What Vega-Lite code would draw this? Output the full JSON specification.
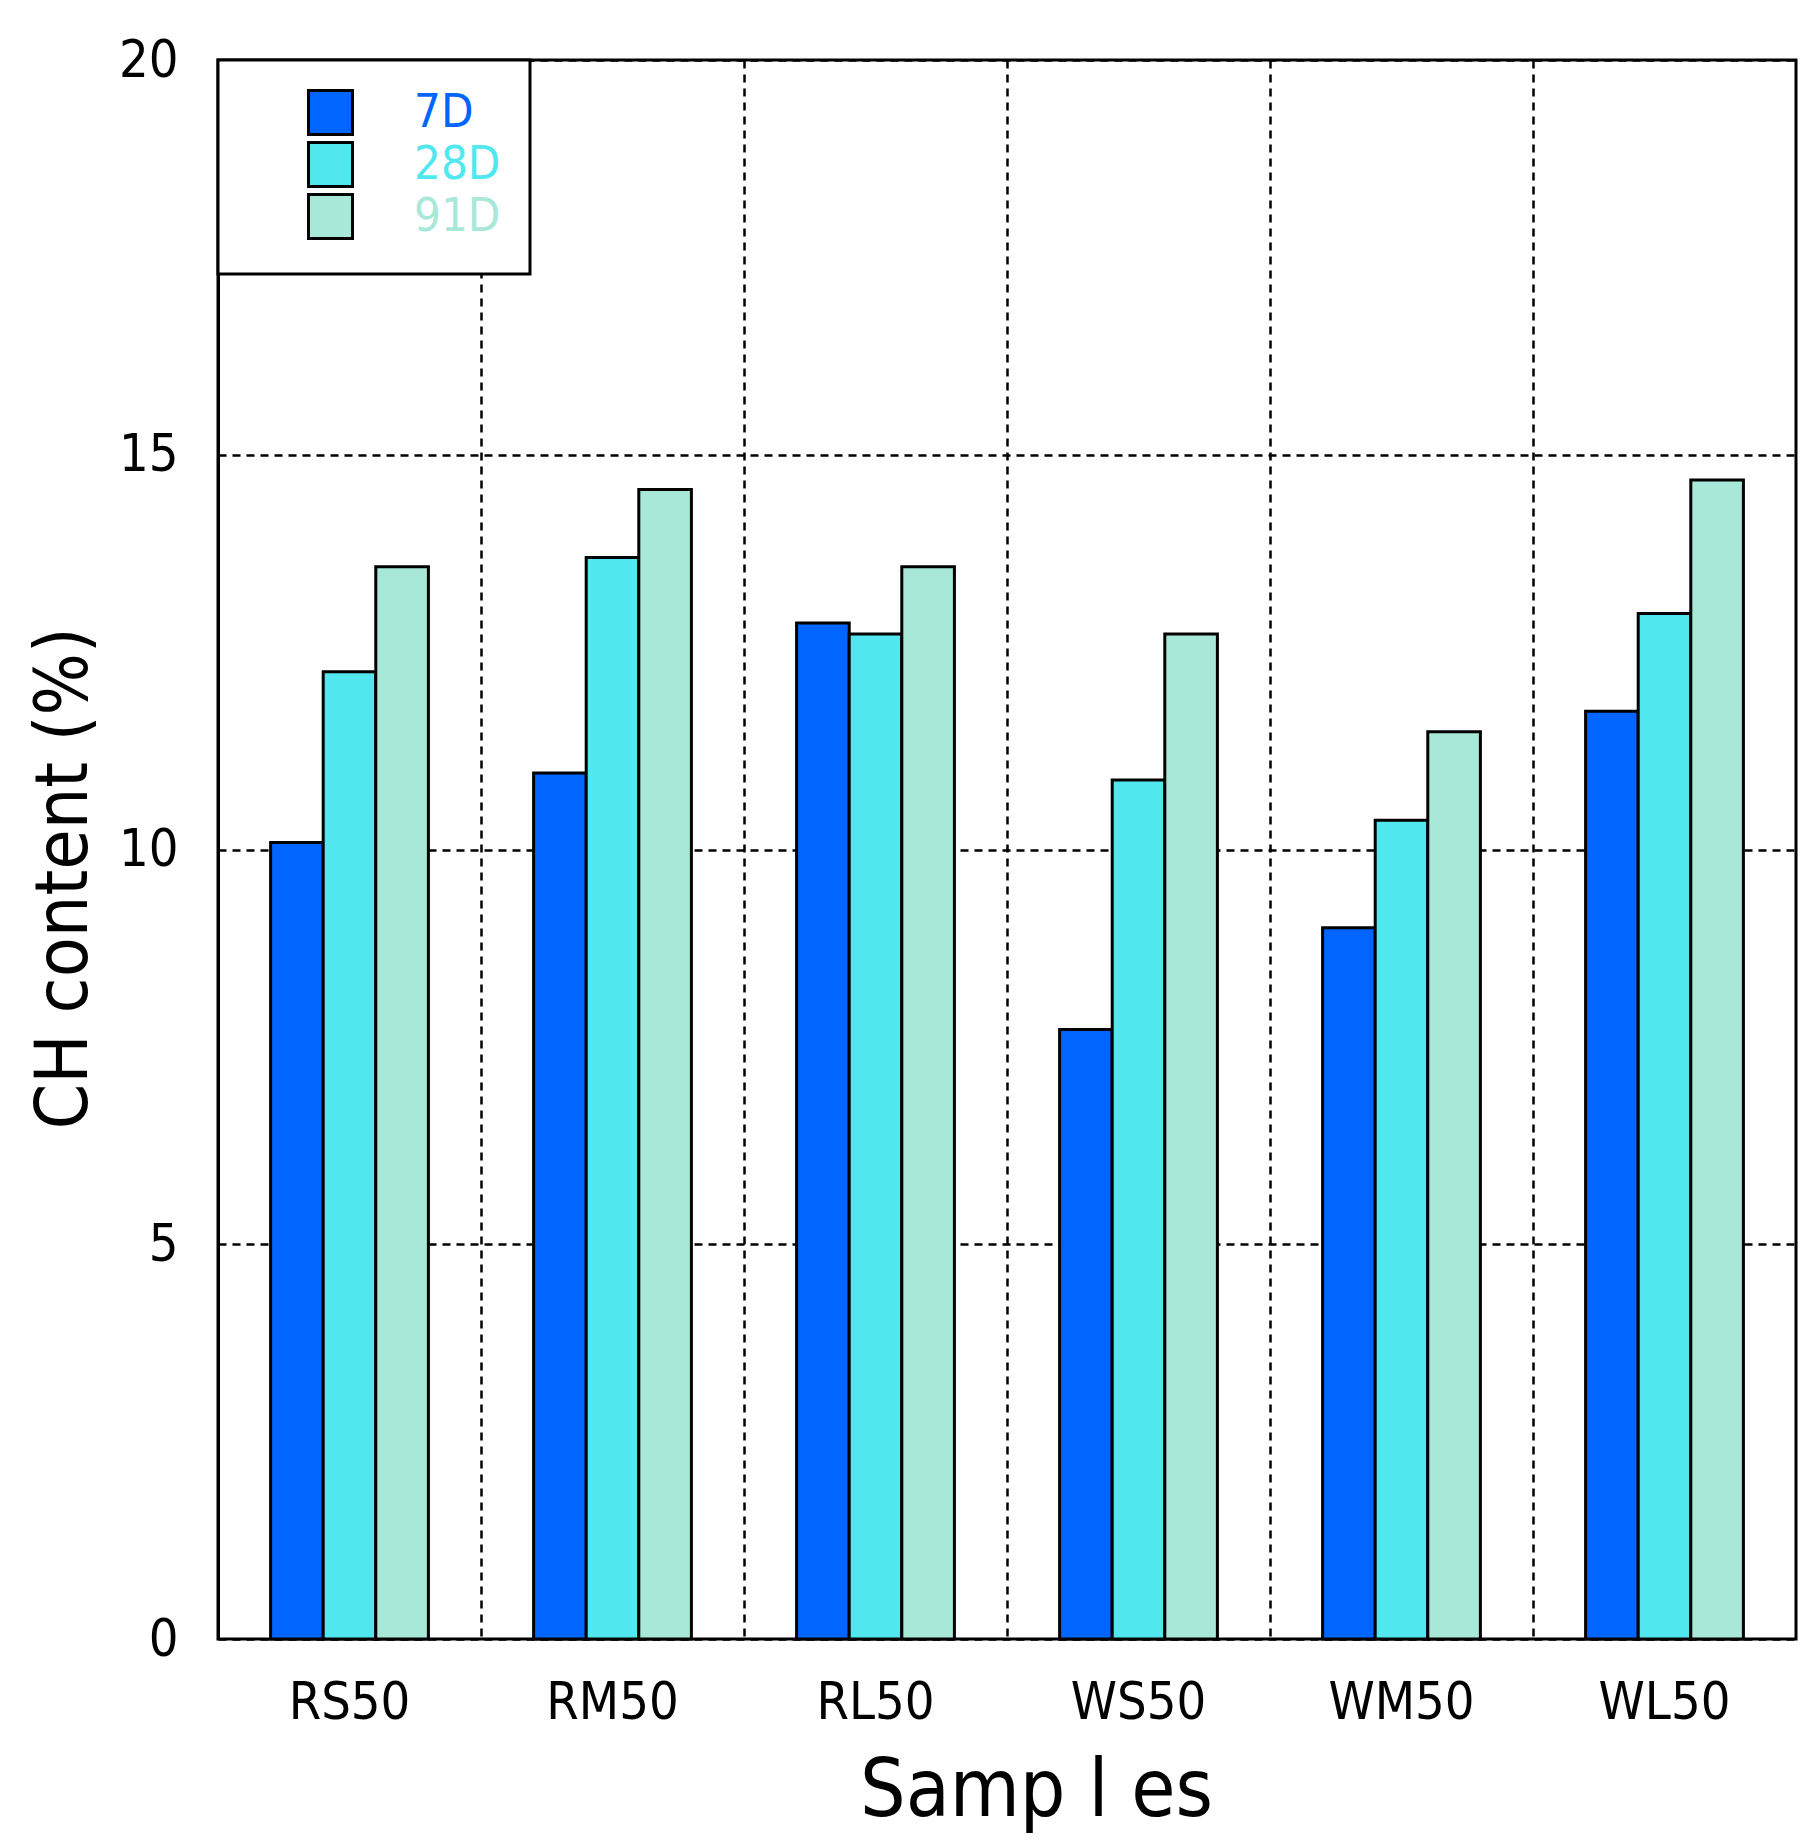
{
  "$schema": "https://vega.github.io/schema/vega-lite/v6.json",
  "width": 1578,
  "height": 1579,
  "autosize": {"type": "none"},
  "padding": {"left": 218, "top": 60, "right": 24, "bottom": 203},
  "background": "white",
  "config": {
    "view": {"stroke": "black", "strokeWidth": 3},
    "font": "DejaVu Sans Condensed, Liberation Sans, sans-serif"
  },
  "data": {
    "values": [
      {"sample": "RS50", "age": "7D", "ch": 10.09},
      {"sample": "RS50", "age": "28D", "ch": 12.25},
      {"sample": "RS50", "age": "91D", "ch": 13.58},
      {"sample": "RM50", "age": "7D", "ch": 10.97},
      {"sample": "RM50", "age": "28D", "ch": 13.70},
      {"sample": "RM50", "age": "91D", "ch": 14.56},
      {"sample": "RL50", "age": "7D", "ch": 12.87},
      {"sample": "RL50", "age": "28D", "ch": 12.73},
      {"sample": "RL50", "age": "91D", "ch": 13.58},
      {"sample": "WS50", "age": "7D", "ch": 7.72},
      {"sample": "WS50", "age": "28D", "ch": 10.88},
      {"sample": "WS50", "age": "91D", "ch": 12.73},
      {"sample": "WM50", "age": "7D", "ch": 9.01},
      {"sample": "WM50", "age": "28D", "ch": 10.37},
      {"sample": "WM50", "age": "91D", "ch": 11.49},
      {"sample": "WL50", "age": "7D", "ch": 11.75},
      {"sample": "WL50", "age": "28D", "ch": 12.99},
      {"sample": "WL50", "age": "91D", "ch": 14.68}
    ]
  },
  "mark": {"type": "bar", "stroke": "black", "strokeWidth": 3, "opacity": 1},
  "encoding": {
    "x": {
      "field": "sample",
      "type": "nominal",
      "sort": null,
      "scale": {"paddingInner": 0, "paddingOuter": 0},
      "axis": {
        "title": "Samp l es",
        "titleFont": "DejaVu Sans Condensed, Liberation Sans, sans-serif",
        "titleFontSize": 80,
        "titleFontWeight": "normal",
        "titleColor": "black",
        "titleBaseline": "alphabetic",
        "titleX": 818,
        "titleY": 176,
        "labelAngle": 0,
        "labelFontSize": 52,
        "labelColor": "black",
        "labelPadding": 38,
        "labelBaseline": "top",
        "ticks": false,
        "domain": false,
        "bandPosition": 0,
        "grid": true,
        "gridColor": "black",
        "gridWidth": 2.5,
        "gridDash": [8, 6],
        "gridOpacity": 1
      }
    },
    "xOffset": {
      "field": "age",
      "type": "nominal",
      "sort": ["7D", "28D", "91D"],
      "scale": {"paddingInner": 0, "paddingOuter": 1}
    },
    "y": {
      "field": "ch",
      "type": "quantitative",
      "scale": {"domain": [0, 20], "nice": false},
      "axis": {
        "title": "CH content (%)",
        "titleFont": "DejaVu Sans Condensed, Liberation Sans, sans-serif",
        "titleFontSize": 73,
        "titleFontWeight": "normal",
        "titleColor": "black",
        "titleBaseline": "alphabetic",
        "titleX": -132,
        "titleY": 818,
        "values": [0, 5, 10, 15, 20],
        "labelFontSize": 52,
        "labelColor": "black",
        "labelPadding": 40,
        "ticks": false,
        "domainColor": "black",
        "domainWidth": 3,
        "grid": true,
        "gridColor": "black",
        "gridWidth": 2.5,
        "gridDash": [8, 6],
        "gridOpacity": 1
      }
    },
    "color": {
      "field": "age",
      "type": "nominal",
      "sort": ["7D", "28D", "91D"],
      "scale": {
        "domain": ["7D", "28D", "91D"],
        "range": ["#0066FF", "#50E8EE", "#A8E8D8"]
      },
      "legend": {
        "title": null,
        "orient": "none",
        "legendX": 0,
        "legendY": 0,
        "fillColor": "white",
        "strokeColor": "black",
        "padding": 29,
        "symbolType": "square",
        "symbolSize": 1936,
        "symbolStrokeColor": "black",
        "symbolStrokeWidth": 3,
        "symbolOpacity": 1,
        "symbolOffset": 60,
        "labelFontSize": 47,
        "labelOffset": 60,
        "rowPadding": -15,
        "encode": {
          "labels": {"update": {"fill": {"scale": "color", "field": "value"}}},
          "legend": {"update": {"strokeWidth": {"value": 3}}}
        }
      }
    }
  }
}
